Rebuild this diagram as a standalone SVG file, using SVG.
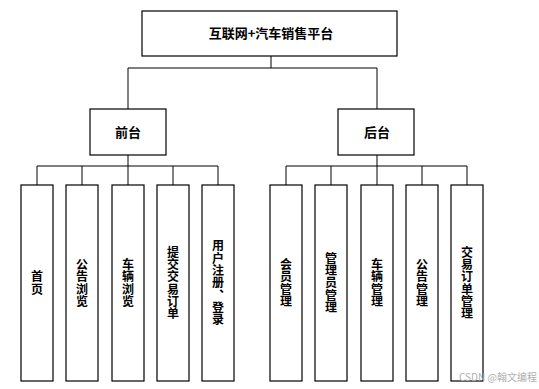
<svg xmlns="http://www.w3.org/2000/svg" width="539" height="389" viewBox="0 0 539 389">
<style>
.box{fill:#fff;stroke:#000;stroke-width:1.2}
.ln{fill:none;stroke:#000;stroke-width:1}
text{font-family:"Noto Sans CJK SC","Noto Sans CJK JP",sans-serif;font-weight:bold;fill:#000}
.h{font-size:13px;text-anchor:middle}
.v{font-size:12px;text-anchor:middle;writing-mode:vertical-rl;letter-spacing:0.3px}
.wm{font-size:10px;font-weight:normal;fill:#b0b0b0}
</style>
<rect width="539" height="389" fill="#fff"/>
<g id="connectors">
<path class="ln" d="M271 56V68M128 68H377M128 68V109M377 68V109"/>
<path class="ln" d="M128 155V166M37 166H218M37 166V185M82 166V185M128 166V185M173 166V185M218 166V185"/>
<path class="ln" d="M377 155V166M286 166H467M286 166V185M331 166V185M377 166V185M422 166V185M467 166V185"/>
</g>
<g id="root"><rect class="box" x="142" y="11" width="255" height="45"/><text class="h" x="271" y="38">互联网+汽车销售平台</text></g>
<g id="front"><rect class="box" x="90" y="109" width="76" height="46"/><text class="h" x="128" y="137">前台</text></g>
<g id="back"><rect class="box" x="338" y="109" width="76" height="46"/><text class="h" x="377" y="137">后台</text></g>
<g id="n1"><rect class="box" x="21" y="185" width="32" height="196"/><text class="v" x="37" y="283">首页</text></g>
<g id="n2"><rect class="box" x="66" y="185" width="32" height="196"/><text class="v" x="82" y="283">公告浏览</text></g>
<g id="n3"><rect class="box" x="112" y="185" width="32" height="196"/><text class="v" x="128" y="283">车辆浏览</text></g>
<g id="n4"><rect class="box" x="157" y="185" width="32" height="196"/><text class="v" x="173" y="283">提交交易订单</text></g>
<g id="n5"><rect class="box" x="202" y="185" width="32" height="196"/><text class="v" x="218" y="283">用户注册、登录</text></g>
<g id="m1"><rect class="box" x="270" y="185" width="32" height="196"/><text class="v" x="286" y="283">会员管理</text></g>
<g id="m2"><rect class="box" x="315" y="185" width="32" height="196"/><text class="v" x="331" y="283">管理员管理</text></g>
<g id="m3"><rect class="box" x="361" y="185" width="32" height="196"/><text class="v" x="377" y="283">车辆管理</text></g>
<g id="m4"><rect class="box" x="406" y="185" width="32" height="196"/><text class="v" x="422" y="283">公告管理</text></g>
<g id="m5"><rect class="box" x="451" y="185" width="32" height="196"/><text class="v" x="467" y="283">交易订单管理</text></g>
<text class="wm" x="459" y="381">CSDN @翰文编程</text>
</svg>
